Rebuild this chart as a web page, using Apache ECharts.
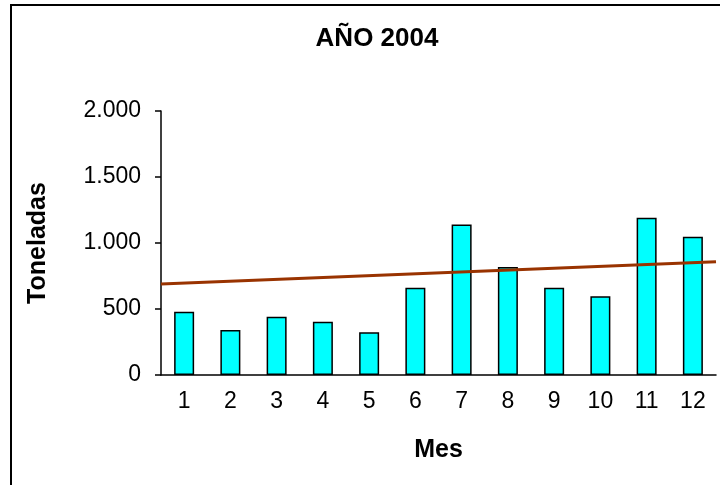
<!DOCTYPE html>
<html lang="es" style="height: 100%">
<head>
<meta charset="utf-8">
<title>AÑO 2004</title>
</head>
<body style="height: 100%; margin: 0; background: #fff">
<div id="container" style="width: 720px; height: 485px"></div>

<script type="text/javascript" src="https://cdn.jsdelivr.net/npm/echarts/dist/echarts.min.js"></script>

<script type="text/javascript">

var dom = document.getElementById('container');
var myChart = echarts.init(dom);

var meses = ['1', '2', '3', '4', '5', '6', '7', '8', '9', '10', '11', '12'];
var toneladas = [480, 341, 442, 404, 323, 661, 1141, 818, 661, 596, 1192, 1048];
// trend line: value at start and end of the category range
var trendX = [0, 12];
var trendY = [689, 858];

var font = 'Liberation Sans, Arial, sans-serif';

// thousands with a dot, as in the original
function miles(v) {
    return String(v).replace(/\B(?=(\d{3})+(?!\d))/g, '.');
}

var option = {
    animation: false,
    title: {
        text: 'AÑO 2004',
        left: 372,
        textAlign: 'center',
        top: 21,
        textStyle: { fontFamily: font, fontSize: 26, fontWeight: 'bold', color: '#000' }
    },
    graphic: [{
        type: 'rect',
        shape: { x: 11, y: 5, width: 760, height: 520 },
        style: { fill: null, stroke: '#000', lineWidth: 2 },
        silent: true
    }],
    grid: { left: 161, right: 4, top: 111, bottom: 110 },
    xAxis: [{
        type: 'category',
        data: meses,
        name: 'Mes',
        nameLocation: 'middle',
        nameGap: 63,
        nameTextStyle: { fontFamily: font, fontSize: 25, fontWeight: 'bold', color: '#000' },
        axisLine: { lineStyle: { color: '#000', width: 1.5 } },
        axisTick: { length: 6, lineStyle: { color: '#000', width: 1.5 } },
        axisLabel: { margin: 15, fontFamily: font, fontSize: 23, color: '#000' }
    }, {
        type: 'value',
        min: 0,
        max: 12,
        show: false
    }],
    yAxis: {
        type: 'value',
        min: 0,
        max: 2000,
        interval: 500,
        name: 'Toneladas',
        nameLocation: 'middle',
        nameGap: 110,
        nameTextStyle: { fontFamily: font, fontSize: 25, fontWeight: 'bold', color: '#000' },
        splitLine: { show: false },
        axisLine: { show: true, lineStyle: { color: '#000', width: 1.5 } },
        axisTick: { show: true, length: 6, lineStyle: { color: '#000', width: 1.5 } },
        axisLabel: { margin: 20, fontFamily: font, fontSize: 23, color: '#000', formatter: miles }
    },
    series: [{
        type: 'bar',
        data: toneladas,
        barWidth: 20,
        itemStyle: { color: '#00FFFF', borderColor: '#000', borderWidth: 1.5 }
    }, {
        type: 'line',
        xAxisIndex: 1,
        data: [[trendX[0], trendY[0]], [trendX[1], trendY[1]]],
        symbol: 'none',
        z: 5,
        lineStyle: { color: '#993300', width: 3 }
    }]
};

myChart.setOption(option);

window.addEventListener('resize', myChart.resize);
</script>
</body>
</html>
